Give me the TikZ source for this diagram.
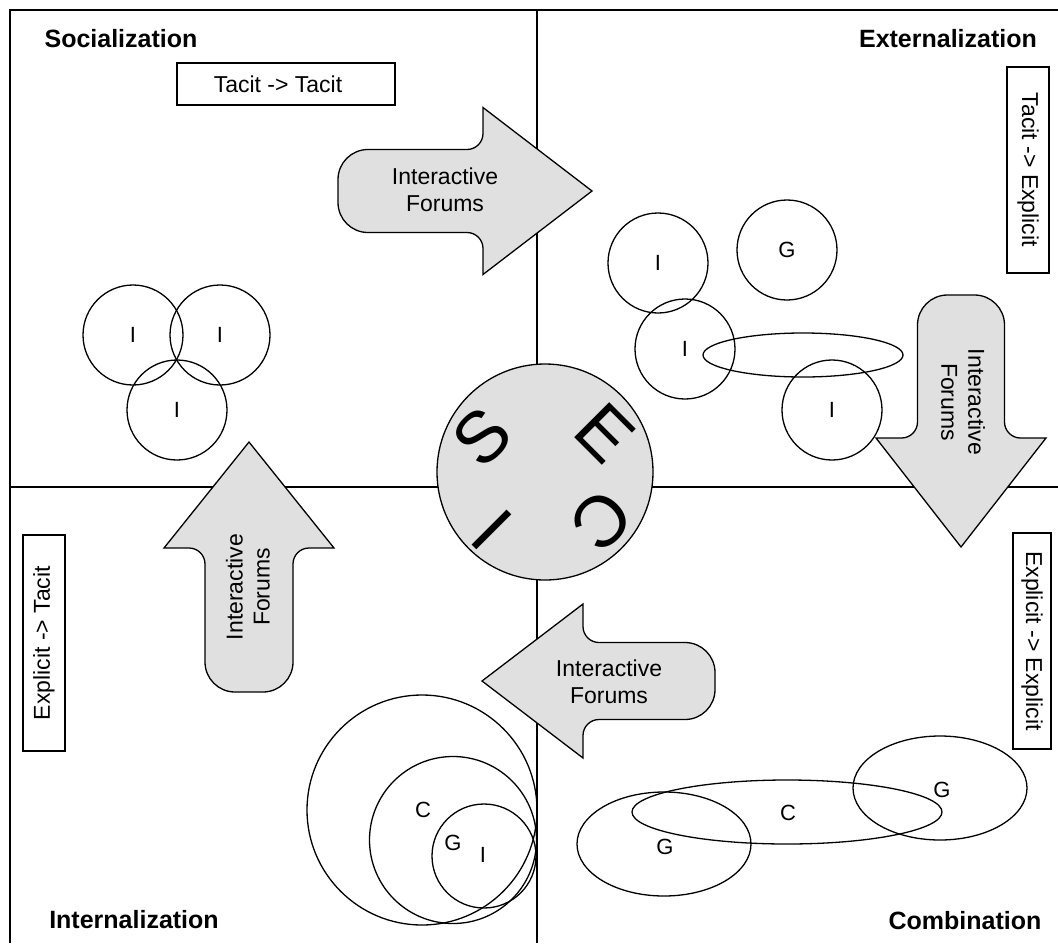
\documentclass[tikz,border=0pt]{standalone}
\usepackage{fontspec}
\setmainfont{Liberation Sans}
\usetikzlibrary{shapes.geometric}
\begin{document}
\begin{tikzpicture}[x=1pt,y=-1pt,
  frameline/.style={line width=2.2pt},
  divider/.style={line width=1.4pt},
  ring/.style={draw, line width=1.3pt, circle, inner sep=0pt},
  oval/.style={draw, line width=1.3pt, ellipse, inner sep=0pt},
  arrowbody/.style={draw, line width=1.3pt, fill=black!12},
  quadlabel/.style={font=\fontsize{25}{30}\selectfont\bfseries, inner sep=0pt},
  modebox/.style={draw, line width=1.4pt, font=\fontsize{23}{27}\selectfont, inner sep=0pt},
  forumtext/.style={font=\fontsize{23}{27}\selectfont, align=center, inner sep=0pt},
  member/.style={font=\fontsize{22}{26}\selectfont, inner sep=0pt},
  secitext/.style={font=\fontsize{72}{72}\selectfont, inner sep=0pt},
  pics/blockarrow/.style n args={4}{code={
    \draw[arrowbody] (#1,0) -- (#2,#4) -- (#2,#3+16) arc[start angle=0,end angle=-90,radius=16]
      -- (30,#3) arc[start angle=90,end angle=180,radius=30]
      -- (0,-#3+30) arc[start angle=180,end angle=270,radius=30]
      -- (#2-16,-#3) arc[start angle=90,end angle=0,radius=16]
      -- (#2,-#4) -- cycle;
  }}
]
\useasboundingbox (0,0) rectangle (1058,943);

% frame and quadrant dividers
\draw[frameline] (10,943) -- (10,10) -- (1058,10);
\draw[divider] (537,10) -- (537,943);
\draw[divider] (10,487) -- (1058,487);

% quadrant titles
\node[quadlabel] (soc) at (121,39) {Socialization};
\node[quadlabel] (ext) at (948,39) {Externalization};
\node[quadlabel] (int) at (134,920) {Internalization};
\node[quadlabel] (com) at (965,921) {Combination};

% mode boxes
\node[modebox, minimum width=218, minimum height=42] (tt) at (286,84) {};
\node[font=\fontsize{23}{27}\selectfont, inner sep=0pt] (ttx) at (278,84) {Tacit -> Tacit};
\node[modebox, rotate=-90, minimum width=206, minimum height=42] (te) at (1028,170) {Tacit -> Explicit};
\node[modebox, rotate=-90, minimum width=216, minimum height=38] (ee) at (1032,641) {Explicit -> Explicit};
\node[modebox, rotate=90, minimum width=216, minimum height=42] (et) at (44,643) {Explicit -> Tacit};

% central SECI circle
\node[ring, fill=black!12, minimum size=216] (seci) at (545,472) {};
\node[secitext, rotate=45] (lS) at (482,437) {S};
\node[secitext, rotate=-45] (lE) at (605,433) {E};
\node[secitext, rotate=-135] (lC) at (602,520) {C};
\node[secitext, rotate=135] (lI) at (492,530) {I};

% block arrows
\pic at (338,191) {blockarrow={254}{145}{41.5}{83.5}};
\node[forumtext] (f1) at (445,190) {Interactive\\Forums};
\pic[rotate=-90] at (961,295) {blockarrow={252}{143}{43.5}{85}};
\node[forumtext, rotate=-90] (f2) at (963,402) {Interactive\\Forums};
\pic[rotate=90] at (249,692) {blockarrow={250}{144}{44}{85}};
\node[forumtext, rotate=90] (f3) at (248,587) {Interactive\\Forums};
\pic[rotate=180] at (715,681) {blockarrow={233}{132}{38.5}{77}};
\node[forumtext] (f4) at (609,682) {Interactive\\Forums};

% socialization individuals
\node[ring, member, minimum size=100] (s1) at (133,335) {I};
\node[ring, member, minimum size=100] (s2) at (220,335) {I};
\node[ring, member, minimum size=100] (s3) at (177,410) {I};

% externalization
\node[ring, member, minimum size=100] (e1) at (658,263) {I};
\node[ring, member, minimum size=100] (e2) at (787,250) {G};
\node[ring, member, minimum size=100] (e3) at (685,349) {I};
\node[oval, minimum width=200, minimum height=44] (e4) at (803,355) {};
\node[ring, member, minimum size=100] (e5) at (832,410) {I};

% internalization nested circles
\node[ring, minimum size=230] (i1) at (422,810) {};
\node[ring, minimum size=167] (i2) at (453,840) {};
\node[ring, minimum size=104] (i3) at (484,856) {};
\node[member] (iC) at (423,810) {C};
\node[member] (iG) at (453,843) {G};
\node[member] (iI) at (483,855) {I};

% combination ellipses
\node[oval, minimum width=174, minimum height=104] (c1) at (664,844) {};
\node[oval, minimum width=310, minimum height=64] (c2) at (787,812) {};
\node[oval, minimum width=174, minimum height=104] (c3) at (940,788) {};
\node[member] (cG1) at (665,847) {G};
\node[member] (cC) at (788,813) {C};
\node[member] (cG2) at (942,790) {G};
\end{tikzpicture}
\end{document}
